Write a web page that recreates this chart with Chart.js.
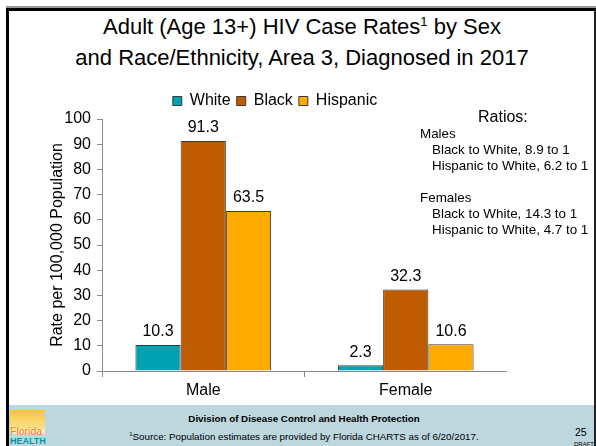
<!DOCTYPE html>
<html>
<head>
<meta charset="utf-8">
<script src="https://cdn.jsdelivr.net/npm/chart.js@4.4.0/dist/chart.umd.min.js"></script>
<style>
  body { margin: 0; background: #fff; font-family: "Liberation Sans", Arial, sans-serif; }
  #slide { position: relative; width: 596px; height: 446px; overflow: hidden; background: #fff; }
  #frame { position: absolute; left: 6px; top: 8px; width: 585px; height: 440px;
           border-left: 3px solid #000; border-top: 3px solid #000; border-right: 2px solid #222; }
  #topline { position: absolute; left: 6px; top: 6px; width: 590px; height: 2px; background: #999; }
  #title { position: absolute; left: 0; top: 11px; width: 604px; text-align: center;
           font-size: 22px; line-height: 31px; color: #000; }
  #title sup { font-size: 13px; line-height: 0; }
  #wrap { position: absolute; left: 43px; top: 87px; width: 464px; height: 318px; }
  #ratios { position: absolute; left: 420px; top: 108px; font-size: 13.4px; line-height: 16px; color: #000; }
  #ratios .head { font-size: 16px; margin-left: 58px; line-height: 18px; }
  #ratios .ind { padding-left: 12px; }
  #footer { position: absolute; left: 9px; top: 405px; width: 585px; height: 41px; background: #bdd7de; }
  #div { position: absolute; left: 0; top: 8px; width: 590px; text-align: center; font-size: 9.8px; font-weight: bold; }
  #src { position: absolute; left: 0; top: 26px; width: 590px; text-align: center; font-size: 9.8px; }
  #src sup { font-size: 6px; }
  #page { position: absolute; left: 566px; top: 21px; font-size: 10.5px; }
  #draft { position: absolute; left: 565px; top: 36px; font-size: 6px; }
  #logo { position: absolute; left: 1px; top: 5px; width: 35px; height: 36px;
          background: linear-gradient(#f5c43e, #fbe08a 50%, #fff3c8 60%, #bdd7de 70%); }
  #logo .f { position: absolute; left: 0; top: 16px; font-size: 10.5px; color: #f08a24; line-height: 10px; }
  #logo .h { position: absolute; left: 0; top: 27px; font-size: 9px; font-weight: bold; color: #0093a8; line-height: 9px; }
</style>
</head>
<body>
<div id="slide">
  <div id="topline"></div>
  <div id="frame"></div>
  <div id="title">Adult (Age 13+) HIV Case Rates<sup>1</sup> by Sex<br>and Race/Ethnicity, Area 3, Diagnosed in 2017</div>
  <div id="wrap"><canvas id="rateChart"></canvas></div>
  <div id="ratios">
    <div class="head">Ratios:</div>
    <div>Males</div>
    <div class="ind">Black to White, 8.9 to 1</div>
    <div class="ind">Hispanic to White, 6.2 to 1</div>
    <div>&nbsp;</div>
    <div>Females</div>
    <div class="ind">Black to White, 14.3 to 1</div>
    <div class="ind">Hispanic to White, 4.7 to 1</div>
  </div>
  <div id="footer">
    <div id="logo"><span class="f">Florida</span><span class="h">HEALTH</span></div>
    <div id="div">Division of Disease Control and Health Protection</div>
    <div id="src"><sup>1</sup>Source: Population estimates are provided by Florida CHARTS as of 6/20/2017.</div>
    <div id="page">25</div>
    <div id="draft">DRAFT</div>
  </div>
</div>
<script>
const categories = ["Male", "Female"];
const seriesNames = ["White", "Black", "Hispanic"];
const white = [10.3, 2.3];
const black = [91.3, 32.3];
const hispanic = [63.5, 10.6];
const colors = ["#00a1b0", "#bf5b00", "#ffaa00"];

// draws the value above each bar
const valueLabels = {
  id: 'valueLabels',
  afterDatasetsDraw(chart) {
    const ctx = chart.ctx;
    ctx.save();
    ctx.font = '16px "Liberation Sans", Arial, sans-serif';
    ctx.fillStyle = '#000';
    ctx.textAlign = 'center';
    ctx.textBaseline = 'bottom';
    chart.data.datasets.forEach((ds, i) => {
      chart.getDatasetMeta(i).data.forEach((bar, j) => {
        ctx.fillText(ds.data[j].toFixed(1), bar.x, bar.y - 5);
      });
    });
    ctx.restore();
  }
};

const ctx = document.getElementById("rateChart").getContext("2d");
new Chart(ctx, {
  type: "bar",
  data: {
    labels: categories,
    datasets: [
      { label: seriesNames[0], data: white, backgroundColor: colors[0] },
      { label: seriesNames[1], data: black, backgroundColor: colors[1] },
      { label: seriesNames[2], data: hispanic, backgroundColor: colors[2] },
    ].map(d => Object.assign(d, { borderColor: '#3a3a3a', borderWidth: 1,
      categoryPercentage: 0.67, barPercentage: 1.0 })),
  },
  plugins: [valueLabels],
  options: {
    responsive: true,
    maintainAspectRatio: false,
    animation: false,
    layout: { padding: 0 },
    plugins: {
      legend: {
        position: "top",
        labels: {
          boxWidth: 9, boxHeight: 9, padding: 6, color: '#000',
          font: { size: 16, family: '"Liberation Sans", Arial, sans-serif' },
        },
      },
      title: { display: false },
      tooltip: { enabled: false },
    },
    scales: {
      x: {
        grid: { display: true, drawOnChartArea: false, offset: true, tickLength: 6, color: '#888' },
        border: { color: '#888' },
        ticks: { color: '#000', padding: 4, font: { size: 16, family: '"Liberation Sans", Arial, sans-serif' } },
        afterFit: (s) => { s.height = 34; },
      },
      y: {
        min: 0, max: 100,
        ticks: { stepSize: 10, color: '#000', padding: 6, font: { size: 16, family: '"Liberation Sans", Arial, sans-serif' } },
        grid: { display: true, drawOnChartArea: false, tickLength: 5, color: '#888' },
        border: { color: '#888' },
        title: { display: true, text: "Rate per 100,000 Population", color: '#000', padding: { top: 5, bottom: 0 },
                 font: { size: 16, family: '"Liberation Sans", Arial, sans-serif' } },
        afterFit: (s) => { s.width = 59; },
      },
    },
  },
});
</script>
</body>
</html>
